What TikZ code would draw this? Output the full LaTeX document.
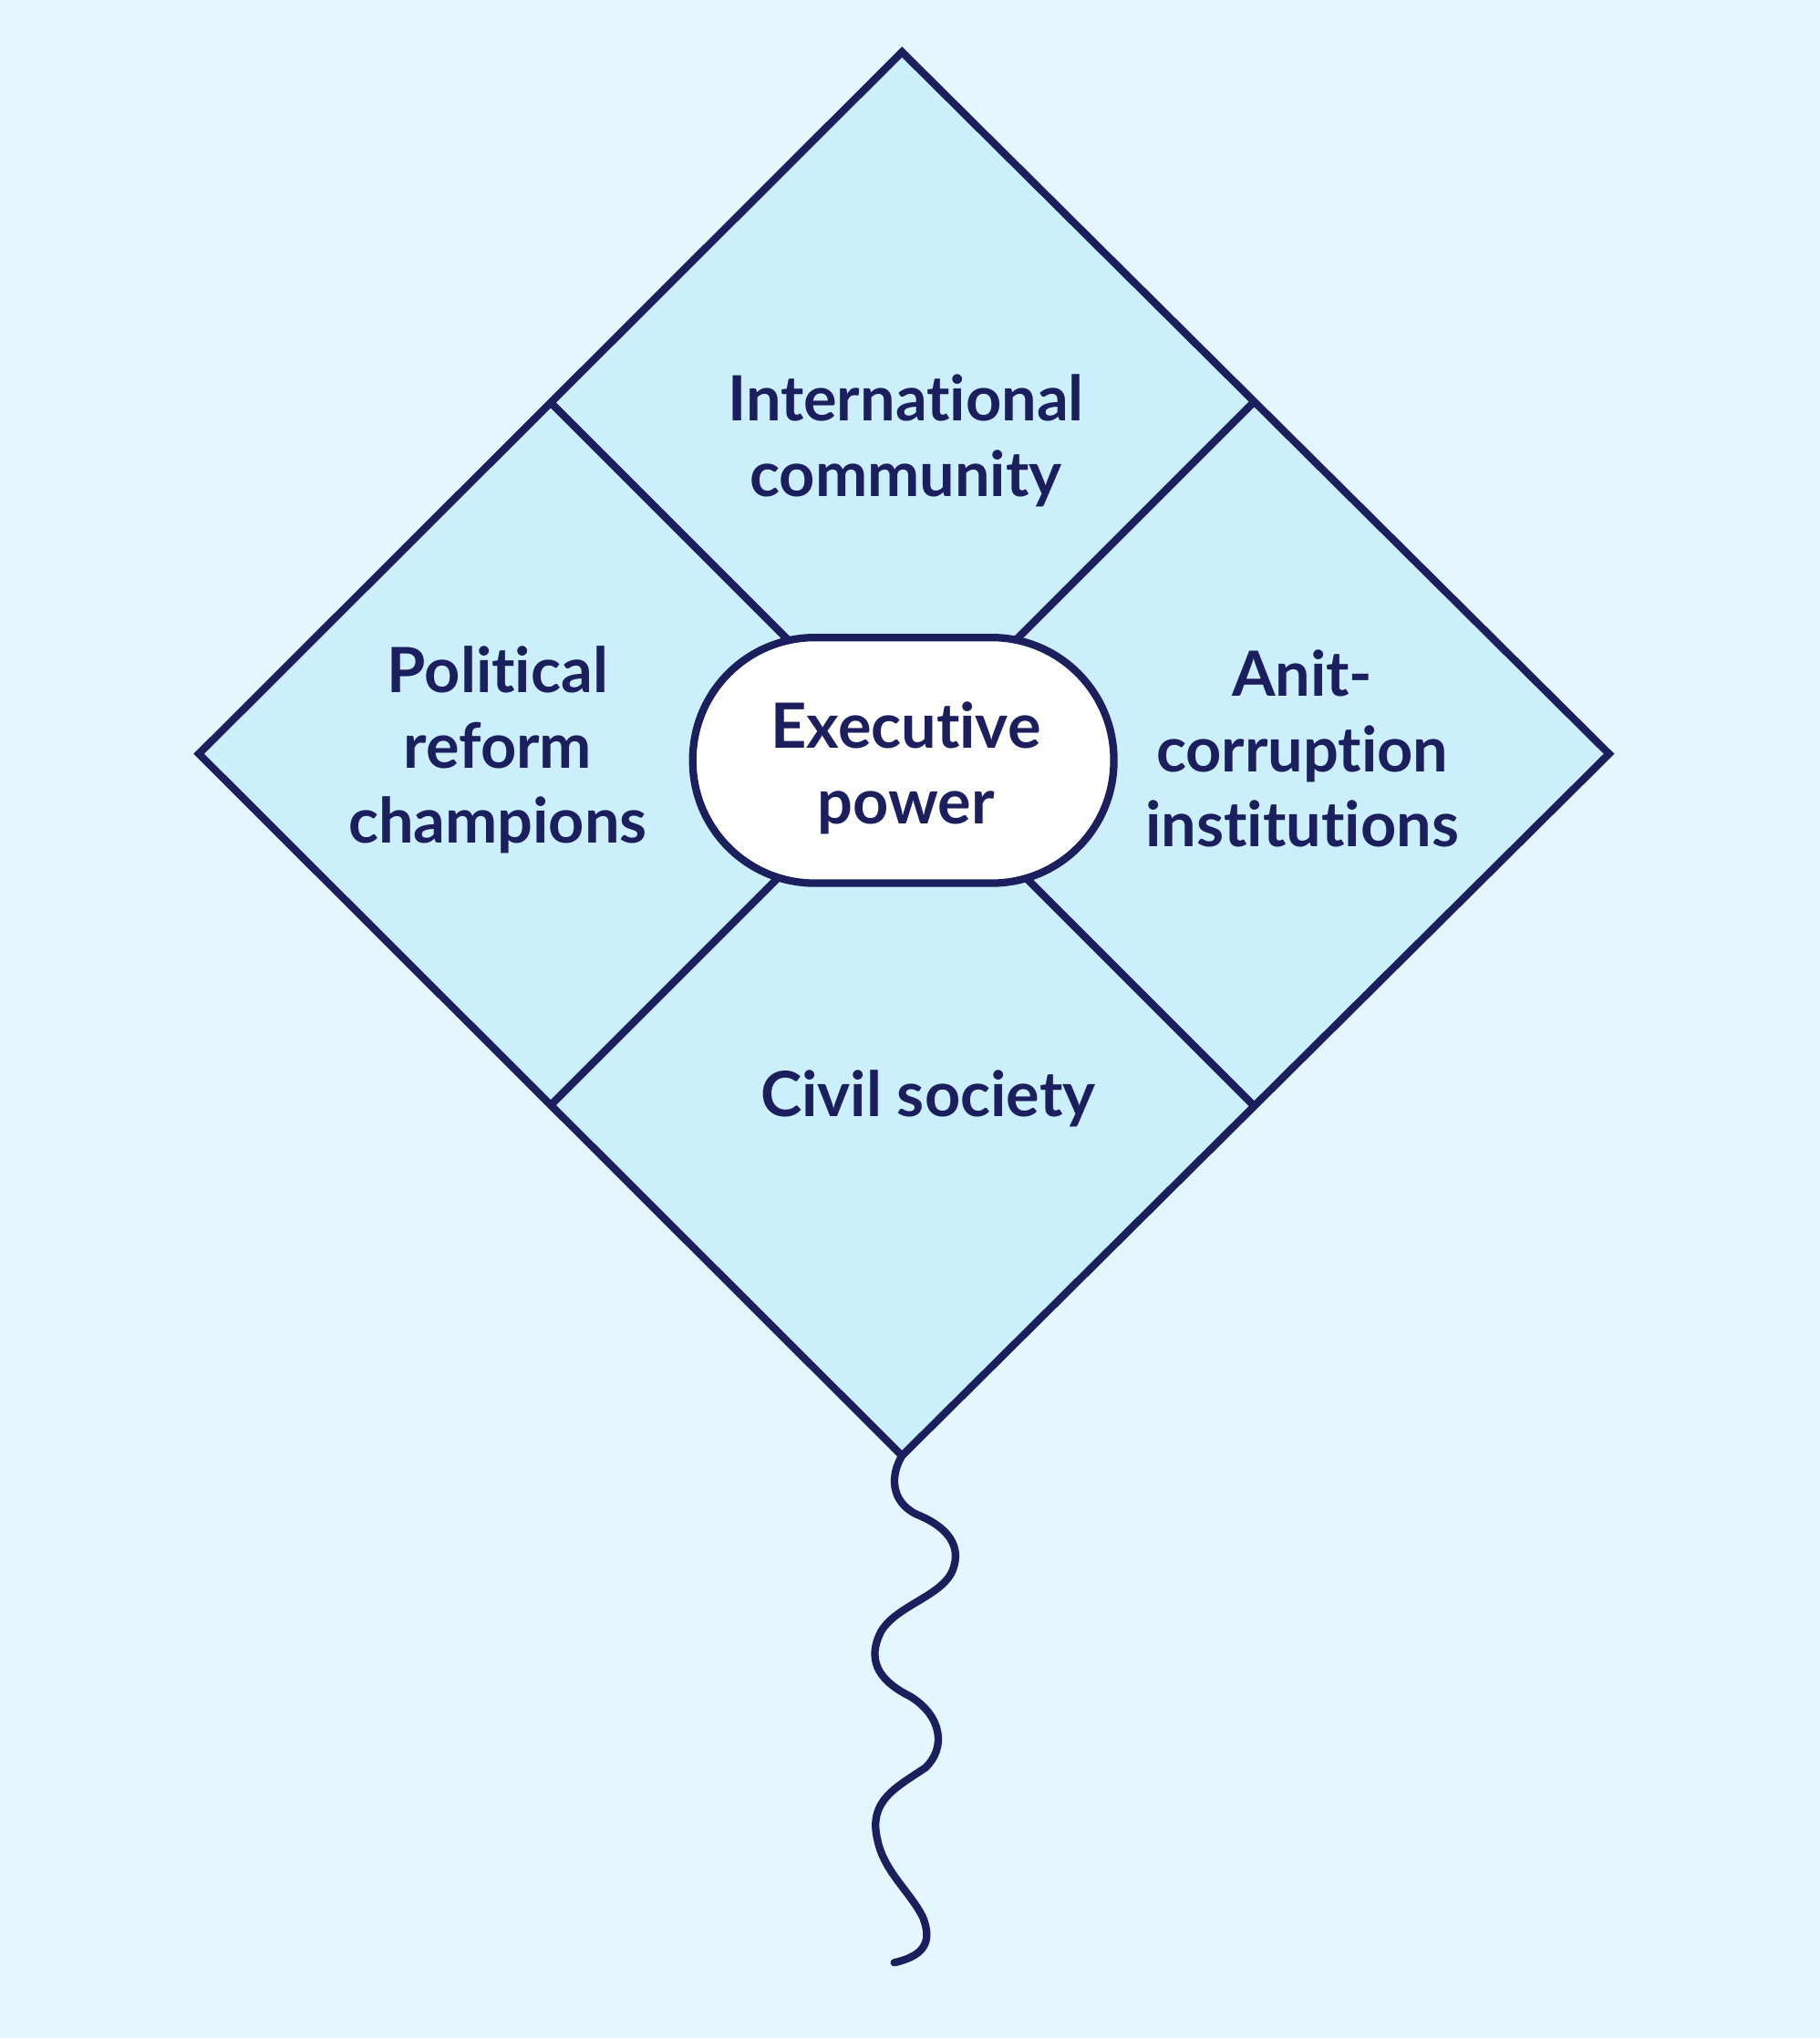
\documentclass[tikz,border=0pt]{standalone}
\usepackage{fontspec}
\setmainfont[Ligatures={NoCommon,NoRare}]{Lato}
\definecolor{bg}{HTML}{E4F6FE}
\definecolor{kite}{HTML}{CCEFFC}
\definecolor{navy}{HTML}{1B1F5E}
\tikzset{lbl/.style={font=\bfseries\fontsize{24}{29}\selectfont, text=navy, align=center},
 ln/.style={draw=navy, line width=2.9pt, line join=miter}}
\begin{document}
\begin{tikzpicture}[x=0.5pt,y=-0.5pt]
\fill[bg] (0,0) rectangle (1400,1568);
\coordinate (T) at (694,40); \coordinate (L) at (153,580);
\coordinate (R) at (1238,580); \coordinate (B) at (694,1120);
\coordinate (TL) at (424,310); \coordinate (TR) at (964,310);
\coordinate (BL) at (424,850); \coordinate (BR) at (964,850);
\filldraw[ln, fill=kite] (T) -- (R) -- (B) -- (L) -- cycle;
\draw[ln] (TL) -- (BR) (TR) -- (BL);
\node[ln, fill=white, rounded corners=47pt, minimum width=162pt, minimum height=94.5pt, inner sep=0pt] (E) at (695,585) {};
\node[lbl] (ET) at (697,591) {Executive\\power};
\node[lbl] (IC) at (697,339) {International\\community};
\node[lbl] (PR) at (383,577) {Political\\reform\\champions};
\node[lbl] (AC) at (1002,576) {Anit-\\corruption\\institutions};
\node[lbl] (CS) at (714,845) {Civil society};
\draw[ln, line cap=round] (B) .. controls (685,1135) and (685,1155) .. (705,1165)
 .. controls (730,1175) and (740,1190) .. (733,1208)
 .. controls (725,1228) and (690,1235) .. (678,1255)
 .. controls (665,1280) and (680,1295) .. (700,1305)
 .. controls (725,1320) and (728,1345) .. (712,1360)
 .. controls (690,1375) and (668,1385) .. (675,1415)
 .. controls (680,1440) and (700,1455) .. (710,1475)
 .. controls (718,1495) and (710,1505) .. (688,1510);
\end{tikzpicture}
\end{document}
